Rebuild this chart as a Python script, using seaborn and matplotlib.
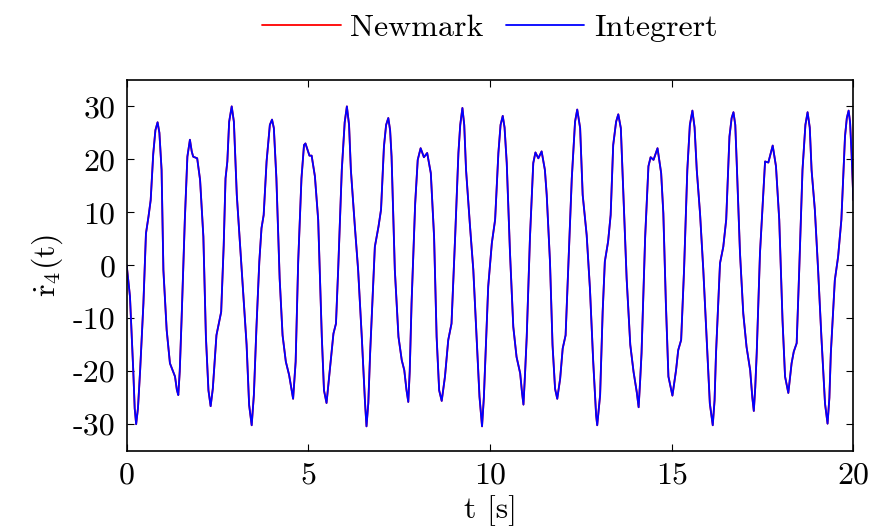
import numpy as np
import pandas as pd
import matplotlib
matplotlib.use("Agg")
import matplotlib.pyplot as plt
import seaborn as sns

# ---- data ----
t_s = [0.00, 0.09, 0.18, 0.22, 0.26, 0.31, 0.37, 0.46, 0.53, 0.60, 0.66, 0.73, 0.79, 0.85, 0.90,
       0.96, 1.01, 1.10, 1.19, 1.28, 1.33, 1.38, 1.42, 1.46, 1.51, 1.60, 1.67, 1.74, 1.79, 1.83,
       1.94, 2.02, 2.11, 2.18, 2.25, 2.31, 2.37, 2.47, 2.60, 2.67, 2.72, 2.77, 2.82, 2.89, 2.95,
       3.03, 3.12, 3.21, 3.30, 3.37, 3.44, 3.50, 3.57, 3.65, 3.71, 3.77, 3.85, 3.94, 4.00, 4.05,
       4.12, 4.21, 4.29, 4.38, 4.47, 4.58, 4.65, 4.72, 4.81, 4.88, 4.92, 5.03, 5.09, 5.18, 5.27,
       5.37, 5.43, 5.50, 5.59, 5.69, 5.76, 5.82, 5.92, 6.00, 6.06, 6.12, 6.17, 6.28, 6.37, 6.47,
       6.56, 6.60, 6.65, 6.70, 6.83, 6.93, 7.00, 7.08, 7.14, 7.20, 7.25, 7.29, 7.38, 7.48, 7.57,
       7.64, 7.70, 7.75, 7.79, 7.84, 7.94, 8.01, 8.09, 8.18, 8.27, 8.37, 8.46, 8.53, 8.60, 8.67,
       8.76, 8.85, 8.94, 9.04, 9.13, 9.18, 9.24, 9.29, 9.34, 9.45, 9.54, 9.63, 9.71, 9.78, 9.83,
       9.86, 9.95, 10.05, 10.14, 10.23, 10.29, 10.35, 10.40, 10.46, 10.55, 10.64, 10.73, 10.83, 10.88, 10.92,
       10.96, 11.01, 11.10, 11.19, 11.25, 11.33, 11.42, 11.51, 11.56, 11.65, 11.72, 11.79, 11.85, 11.93, 12.00,
       12.08, 12.16, 12.25, 12.34, 12.40, 12.48, 12.55, 12.66, 12.75, 12.84, 12.92, 12.95, 13.03, 13.10, 13.16,
       13.25, 13.32, 13.39, 13.47, 13.53, 13.60, 13.67, 13.76, 13.86, 13.95, 14.04, 14.09, 14.13, 14.17, 14.27,
       14.36, 14.42, 14.50, 14.61, 14.71, 14.77, 14.84, 14.91, 15.02, 15.12, 15.18, 15.26, 15.34, 15.43, 15.50,
       15.57, 15.63, 15.69, 15.78, 15.87, 15.96, 16.05, 16.13, 16.18, 16.22, 16.33, 16.42, 16.50, 16.59, 16.65,
       16.70, 16.75, 16.79, 16.88, 16.97, 17.06, 17.16, 17.22, 17.26, 17.30, 17.34, 17.43, 17.57, 17.66, 17.78,
       17.87, 17.96, 18.05, 18.12, 18.21, 18.30, 18.36, 18.44, 18.51, 18.60, 18.68, 18.74, 18.80, 18.85, 18.94,
       19.03, 19.12, 19.22, 19.29, 19.34, 19.38, 19.49, 19.58, 19.67, 19.77, 19.82, 19.87, 19.91, 19.95, 20.00]

newmark = [0.0, -5.9, -19.8, -27.0, -30.0, -27.0, -19.8, -7.2, 6.0, 9.2, 12.3, 21.0, 25.5, 27.0, 25.0,
           18.0, -0.9, -12.2, -18.5, -20.1, -21.0, -23.5, -24.5, -20.0, -10.3, 8.6, 20.5, 23.7, 21.5, 20.5,
           20.2, 16.1, 5.4, -13.5, -23.6, -26.6, -23.3, -13.2, -8.8, 3.8, 16.4, 19.6, 27.1, 30.0, 27.1,
           13.3, 3.8, -5.6, -15.0, -26.4, -30.2, -24.5, -11.9, 0.7, 7.0, 9.5, 19.6, 26.5, 27.5, 25.9,
           16.4, -2.5, -13.2, -18.2, -20.7, -25.2, -18.2, 0.7, 16.4, 22.7, 23.0, 20.7, 20.7, 16.8, 8.6,
           -13.5, -23.6, -26.0, -19.8, -12.9, -11.0, -0.9, 18.0, 27.0, 30.0, 26.5, 18.0, 7.3, -0.9, -13.5,
           -26.0, -30.4, -26.0, -16.6, 3.5, 7.3, 10.5, 22.4, 26.5, 27.8, 25.5, 20.5, -0.9, -13.5, -17.9,
           -19.8, -23.5, -25.8, -20.0, -7.2, 11.7, 19.9, 22.1, 20.4, 21.2, 17.4, 5.4, -13.5, -23.6, -25.6,
           -21.0, -14.1, -11.0, 5.4, 21.2, 26.5, 29.7, 26.5, 18.0, 7.3, -0.9, -13.5, -24.8, -30.4, -25.0,
           -19.8, -4.0, 4.2, 8.6, 21.2, 26.5, 28.2, 26.0, 19.3, 2.3, -11.6, -17.3, -20.4, -24.0, -26.3,
           -21.0, -13.5, 5.4, 19.3, 21.3, 20.2, 21.5, 18.0, 13.3, 0.7, -15.0, -23.3, -25.2, -21.4, -15.7,
           -13.2, 0.7, 16.4, 27.1, 29.4, 25.9, 13.3, 5.7, -4.4, -18.2, -28.3, -30.2, -24.5, -8.8, 0.7,
           4.5, 9.5, 22.7, 27.1, 28.5, 25.9, 13.3, -2.5, -15.0, -20.1, -24.0, -26.8, -22.0, -16.6, 5.4,
           18.7, 20.4, 19.9, 22.1, 17.4, 9.8, -7.2, -21.0, -24.6, -19.8, -16.0, -14.1, -0.9, 18.0, 26.5,
           29.2, 26.0, 18.0, 9.8, -0.9, -13.5, -26.1, -30.2, -25.5, -16.6, 0.4, 3.5, 8.6, 24.3, 27.8,
           28.9, 26.5, 19.3, 2.3, -9.1, -15.4, -19.8, -25.0, -27.5, -23.0, -16.6, 2.3, 19.6, 19.4, 22.6,
           18.7, 8.6, -10.3, -21.0, -24.1, -18.5, -16.3, -14.7, -0.9, 18.0, 26.5, 28.9, 26.0, 18.0, 10.5,
           -0.9, -13.5, -26.1, -29.9, -25.0, -16.6, -2.8, 1.6, 8.6, 24.3, 27.8, 29.2, 27.0, 21.2, 12.3]

assert len(t_s) == len(newmark)
integrert = list(newmark)

series_names = ["Newmark", "Integrert"]
series_colors = ["#ff0000", "#0000ff"]
x_ticks = [0, 5, 10, 15, 20]
y_ticks = [-30, -20, -10, 0, 10, 20, 30]
y_ticklabels = ["-30", "-20", "-10", "0", "10", "20", "30"]

df = pd.concat([
    pd.DataFrame({"t": t_s, "v": newmark, "series": series_names[0]}),
    pd.DataFrame({"t": t_s, "v": integrert, "series": series_names[1]}),
], ignore_index=True)

sns.set_style("ticks")
plt.rcParams["font.family"] = ["cmr10"]
plt.rcParams["mathtext.fontset"] = "cm"
plt.rcParams["axes.unicode_minus"] = False
plt.rcParams["text.color"] = "black"
plt.rcParams["axes.labelcolor"] = "black"
plt.rcParams["xtick.color"] = "black"
plt.rcParams["ytick.color"] = "black"

fs = 23
fig = plt.figure(figsize=(8.69, 5.29), dpi=100)
ax = fig.add_axes([0.1458, 0.148, 0.8362, 0.701])

sns.lineplot(data=df, x="t", y="v", hue="series", hue_order=series_names,
             palette=dict(zip(series_names, series_colors)), estimator=None,
             sort=False, linewidth=1.3, ax=ax)

ax.set_xlim(0, 20)
ax.set_ylim(-35, 35)
ax.set_xticks(x_ticks)
ax.set_xticklabels([str(v) for v in x_ticks], fontsize=fs)
ax.set_yticks(y_ticks)
ax.set_yticklabels(y_ticklabels, fontsize=fs)
ax.tick_params(direction="in", top=True, right=True, length=5, width=0.8, pad=8)
for s in ax.spines.values():
    s.set_linewidth(1.2)
    s.set_color("black")

ax.set_xlabel("t [s]", fontsize=fs, labelpad=4)
ax.set_ylabel(r"$\dot{\mathrm{r}}_4(\mathrm{t})$", fontsize=fs, labelpad=6)

handles, labels = ax.get_legend_handles_labels()
ax.legend(handles, labels, loc="center", bbox_to_anchor=(0.5, 1.14), ncol=2,
          frameon=False, fontsize=fs, handlelength=2.45, handletextpad=0.31,
          columnspacing=0.7, borderaxespad=0)

fig.savefig("out.png", dpi=100)
